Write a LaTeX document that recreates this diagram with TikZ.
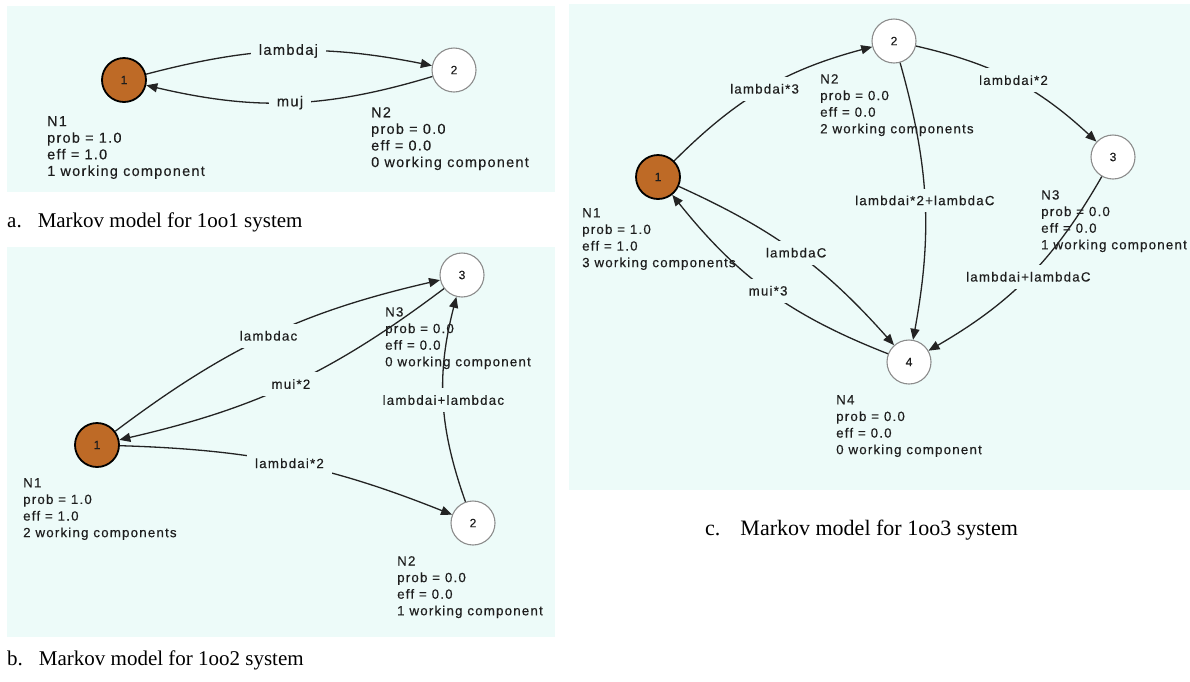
\documentclass[tikz,border=0pt]{standalone}
\usepackage{fontspec}
\setmainfont{Liberation Serif}
\newfontfamily\labfont[LetterSpace=9,FakeBold=0.3]{Liberation Sans}
\usetikzlibrary{arrows.meta}
\definecolor{bgc}{RGB}{237,251,249}
\definecolor{brn}{RGB}{190,106,38}
\definecolor{txt}{RGB}{30,30,30}
\definecolor{edgec}{RGB}{35,35,35}
\definecolor{ring}{RGB}{140,140,140}
\begin{document}
\begin{tikzpicture}[x=1pt,y=-1pt,
  panel/.style={fill=bgc,draw=none},
  stfull/.style={circle,minimum size=44pt,inner sep=0pt,fill=brn,draw=black,line width=1.8pt,font=\labfont\fontsize{12}{14}\selectfont,text=txt},
  stempty/.style={circle,minimum size=44pt,inner sep=0pt,fill=white,draw=ring,line width=1.1pt,font=\labfont\fontsize{12}{14}\selectfont,text=txt},
  infotext/.style={anchor=north west,align=left,inner sep=0pt,font=\labfont\fontsize{#1}{16.6}\selectfont,text=txt},
  infotext/.default=13.3,
  lab/.style={fill=bgc,inner xsep=8pt,inner ysep=7pt,font=\labfont\fontsize{#1}{16}\selectfont,text=txt},
  lab/.default=13.3,
  conn/.style={draw=edgec,line width=1.3pt,-{Triangle[length=11pt,width=9pt]}},
  capt/.style={anchor=base west,inner sep=0pt,text=black}]
\useasboundingbox (0,0) rectangle (1190,681);
% panels
\fill[panel] (7,6) rectangle (555,192);
\fill[panel] (7,247) rectangle (555,637);
\fill[panel] (569,4) rectangle (1190,490);
% captions
\node[capt,font=\fontsize{21}{24}\selectfont] (capa) at (7,227) {a.\hspace{16pt}Markov model for 1oo1 system};
\node[capt,font=\fontsize{21}{24}\selectfont] (capb) at (7,665) {b.\hspace{16pt}Markov model for 1oo2 system};
\node[capt,font=\fontsize{22}{24}\selectfont] (capc) at (705,535) {c.\hspace{20pt}Markov model for 1oo3 system};
% ---------- panel a ----------
\node[stfull] (a1) at (124,80) {1};
\node[stempty] (a2) at (454,70) {2};
\node[infotext=14.4] (a1i) at (47,116) {N1\\prob = 1.0\\eff = 1.0\\1 working component};
\node[infotext=14.4] (a2i) at (371,107) {N2\\prob = 0.0\\eff = 0.0\\0 working component};
\draw[conn] (a1) to[bend left=13] node[lab=14.6] (la1) {lambdaj} (a2);
\draw[conn] (a2) to[bend left=15] node[lab=14.6] (la2) {muj} (a1);
% ---------- panel b ----------
\node[stfull] (b1) at (97,445) {1};
\node[stempty] (b2) at (473,523) {2};
\node[stempty] (b3) at (462,275) {3};
\node[infotext] (b1i) at (23,478) {N1\\prob = 1.0\\eff = 1.0\\2 working components};
\node[infotext] (b3i) at (385,307) {N3\\prob = 0.0\\eff = 0.0\\0 working component};
\node[infotext] (b2i) at (397,556) {N2\\prob = 0.0\\eff = 0.0\\1 working component};
\draw[conn] (b1) to[bend left=12] node[lab] (lb1) {lambdac} (b3);
\draw[conn] (b3) to[bend left=12] node[lab] (lb2) {mui*2} (b1);
\draw[conn] (b1) to[bend left=10] node[lab] (lb3) {lambdai*2} (b2);
\draw[conn] (b2) to[bend left=17] node[lab] (lb4) {lambdai+lambdac} (b3);
% ---------- panel c ----------
\node[stfull] (c1) at (658,177) {1};
\node[stempty] (c2) at (894,41) {2};
\node[stempty] (c3) at (1113,157) {3};
\node[stempty] (c4) at (909,362) {4};
\node[infotext] (c1i) at (582,208) {N1\\prob = 1.0\\eff = 1.0\\3 working components};
\node[infotext] (c2i) at (820,74) {N2\\prob = 0.0\\eff = 0.0\\2 working components};
\node[infotext] (c3i) at (1041,190) {N3\\prob = 0.0\\eff = 0.0\\1 working component};
\node[infotext] (c4i) at (836,395) {N4\\prob = 0.0\\eff = 0.0\\0 working component};
\draw[conn] (c1) to[bend left=15] node[lab] (lc1) {lambdai*3} (c2);
\draw[conn] (c2) to[bend left=15] node[lab] (lc2) {lambdai*2} (c3);
\draw[conn] (c2) to[bend left=13] node[lab] (lc3) {lambdai*2+lambdaC} (c4);
\draw[conn] (c1) to[bend left=12] node[lab] (lc4) {lambdaC} (c4);
\draw[conn] (c4) to[bend left=15] node[lab] (lc5) {mui*3} (c1);
\draw[conn] (c3) to[bend left=15] node[lab] (lc6) {lambdai+lambdaC} (c4);
\end{tikzpicture}
\end{document}
